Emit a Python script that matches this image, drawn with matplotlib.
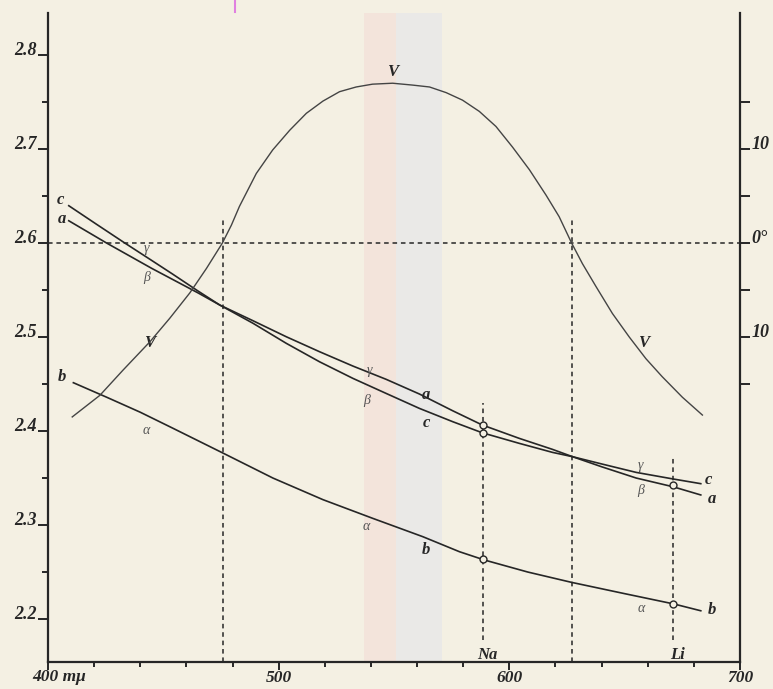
import matplotlib
matplotlib.use("Agg")
import matplotlib.pyplot as plt
import numpy as np

plt.rcParams['font.family'] = ['Liberation Serif', 'DejaVu Serif']

# wavelength (m\u03bc) and refractive index
a_nm = np.array([409, 425.4, 445, 465, 474.5, 488.9, 503.3, 517.7, 532.2, 546.6, 561, 575.5,
                 588.2, 604.3, 618.7, 627.4, 640, 655, 671, 683])
a_n = np.array([2.6237, 2.600, 2.573, 2.547, 2.534, 2.5173, 2.5003, 2.4844, 2.4691, 2.455,
                2.4394, 2.4215, 2.4065, 2.3922, 2.3805, 2.3727, 2.362, 2.350, 2.3407, 2.332])

c_nm = np.array([409, 421, 433.3, 444, 454, 465, 474.5, 488.9, 503.3, 517.7, 532.2, 546.6, 561,
                 575.5, 588.2, 604.3, 618.7, 627.4, 640, 655, 671, 683])
c_n = np.array([2.6397, 2.620, 2.600, 2.583, 2.567, 2.549, 2.534, 2.5146, 2.4933, 2.4737, 2.456,
                2.440, 2.4241, 2.4099, 2.3982, 2.3869, 2.3773, 2.3727, 2.365, 2.356, 2.349, 2.344])

b_nm = np.array([411, 425.4, 440, 454.2, 475.9, 497.5, 519.2, 540.8, 562.5, 578.4, 589.2, 608,
                 627, 650, 671.4, 683])
b_n = np.array([2.4514, 2.436, 2.420, 2.4029, 2.3765, 2.350, 2.327, 2.3071, 2.2876, 2.2716,
                2.2628, 2.250, 2.239, 2.227, 2.216, 2.2088])

# optic axial angle V in degrees (right scale)
v_nm = np.array([410.5, 422.5, 432.6, 444.2, 452.8, 461.5, 468.7, 475.6, 479.5, 483, 490.3, 497.4,
                 504.8, 512, 519.2, 526.4, 533.6, 540.7, 549.4, 558.1, 565.4, 572.6, 579.7, 587,
                 594.2, 601.4, 608.7, 615.9, 621.6, 627, 631.7, 637.5, 644.7, 652, 659.2, 666.2,
                 675, 683.7])
v_deg = np.array([-18.5, -16.2, -13.5, -10.5, -8.0, -5.3, -2.7, 0, 1.9, 3.9, 7.4, 9.9,
                  12.0, 13.8, 15.1, 16.1, 16.6, 16.9, 17.0, 16.8, 16.6, 16.0, 15.2, 14.0,
                  12.4, 10.2, 7.8, 5.1, 2.8, 0, -2.2, -4.6, -7.5, -10.0, -12.3, -14.2,
                  -16.4, -18.3])

na_nm, li_nm = 588.5, 671
cross_nm = [476, 627]

ink = '#262626'
paper = '#f4f0e3'
dash = (0, (3, 2.5))

fig = plt.figure(figsize=(7.73, 6.89), dpi=100)
fig.patch.set_facecolor(paper)
ax = fig.add_axes([48 / 773, 27 / 689, 692 / 773, 649 / 689])
ax.set_facecolor('none')
ax.set_xlim(400, 700)
ax.set_ylim(2.1543, 2.8447)

# faint coloured band from the scan
ax.axvspan(537, 551, color='#f2d6d3', alpha=0.45, lw=0, zorder=0)
ax.axvspan(551, 571, color='#e2e3ec', alpha=0.5, lw=0, zorder=0)
fig.add_artist(plt.Line2D([235 / 773, 235 / 773], [1 - 12 / 689, 1.0], color='#e080e0', lw=1.5))

# refractive index curves
ax.plot(c_nm, c_n, color=ink, lw=1.2)
ax.plot(a_nm, a_n, color=ink, lw=1.2)
ax.plot(b_nm, b_n, color=ink, lw=1.2)

# measured points
ax.plot([na_nm] * 3, [np.interp(na_nm, a_nm, a_n), np.interp(na_nm, c_nm, c_n),
        np.interp(na_nm, b_nm, b_n)], 'o', ms=5, mfc=paper, mec=ink, mew=1, zorder=5)
ax.plot([li_nm] * 2, [np.interp(li_nm, a_nm, a_n) + 0.002, np.interp(li_nm, b_nm, b_n)],
        'o', ms=5, mfc=paper, mec=ink, mew=1, zorder=5)

# dashed guides
ax.axhline(2.6, color=ink, lw=1.1, ls=dash)
ax.vlines(cross_nm, 2.1543, 2.6245, color=ink, lw=1.1, ls=dash)
ax.vlines([na_nm], 2.178, 2.4298, color=ink, lw=1.1, ls=dash)
ax.vlines([li_nm], 2.178, 2.3734, color=ink, lw=1.1, ls=dash)

# spines and ticks
for s in ['left', 'bottom', 'right']:
    ax.spines[s].set_linewidth(1.6)
    ax.spines[s].set_color(ink)
ax.spines['top'].set_visible(False)

ax.set_yticks(np.arange(2.2, 2.81, 0.1))
ax.set_yticks(np.arange(2.25, 2.80, 0.1), minor=True)
ax.set_yticklabels(['2.2', '2.3', '2.4', '2.5', '2.6', '2.7', '2.8'])
ax.set_xticks([400, 500, 600, 700])
ax.set_xticks(np.arange(420, 700, 20), minor=True)
ax.set_xticklabels(['', '500', '600', '700'])
ax.tick_params(axis='y', which='major', length=7, width=1.4, color=ink, pad=1,
               labelsize=13, labelcolor=ink)
ax.tick_params(axis='y', which='minor', length=4, width=1.4, color=ink)
ax.tick_params(axis='x', which='major', length=5.5, width=1.4, color=ink, pad=0.5,
               labelsize=12.5, labelcolor=ink)
ax.tick_params(axis='x', which='minor', length=3.5, width=1.4, color=ink)
for lab in ax.get_yticklabels() + ax.get_xticklabels():
    lab.set_fontstyle('italic')
    lab.set_fontweight('bold')
for lab in ax.get_yticklabels():
    lab.set_va('baseline')
ax.annotate('400 m\u03bc', xy=(400, 2.1543), xytext=(-11, -5), textcoords='offset points',
            ha='left', va='top', fontsize=12.5, style='italic', weight='bold', color=ink,
            annotation_clip=False)

# V on the right scale (0 deg at n = 2.6, 10 deg per 0.1)
ax2 = ax.twinx()
ax2.set_ylim((2.1543 - 2.6) * 100, (2.8447 - 2.6) * 100)
ax2.plot(v_nm, v_deg, color='#444444', lw=1.0)
for s in ax2.spines.values():
    s.set_visible(False)
ax2.set_yticks([-15, -10, -5, 0, 5, 10, 15])
ax2.set_yticklabels(['', '10', '', '0\u00b0', '', '10', ''])
ax2.tick_params(axis='y', length=7, width=1.4, color=ink, pad=1, labelsize=13, labelcolor=ink)
for lab in ax2.get_yticklabels():
    lab.set_fontstyle('italic')
    lab.set_fontweight('bold')
    lab.set_va('baseline')

# curve letters
big = dict(fontsize=12, style='italic', weight='bold', color=ink, ha='center', va='center')
greek = dict(fontsize=10, style='italic', color='#555555', ha='center', va='center')
for x, y, t in [(405.5, 2.6455, 'c'), (405.9, 2.6255, 'a'), (405.9, 2.4578, 'b'),
                (564, 2.4383, 'a'), (564, 2.4085, 'c'), (564, 2.2734, 'b'),
                (686.5, 2.3475, 'c'), (688, 2.3275, 'a'), (688, 2.2096, 'b'),
                (444.2, 2.494, 'V'), (549.4, 2.7822, 'V'), (658.4, 2.4936, 'V'),
                (590.3, 2.1617, 'Na'), (672.7, 2.1617, 'Li')]:
    ax.text(x, y, t, **big)
for x, y, t in [(442.7, 2.5947, '\u03b3'), (442.7, 2.5628, '\u03b2'), (442.7, 2.401, '\u03b1'),
                (539.4, 2.4649, '\u03b3'), (538, 2.433, '\u03b2'), (538, 2.2982, '\u03b1'),
                (657, 2.3638, '\u03b3'), (657, 2.3372, '\u03b2'), (657, 2.2114, '\u03b1')]:
    ax.text(x, y, t, **greek)

fig.savefig('out.png', dpi=100, facecolor=paper)
